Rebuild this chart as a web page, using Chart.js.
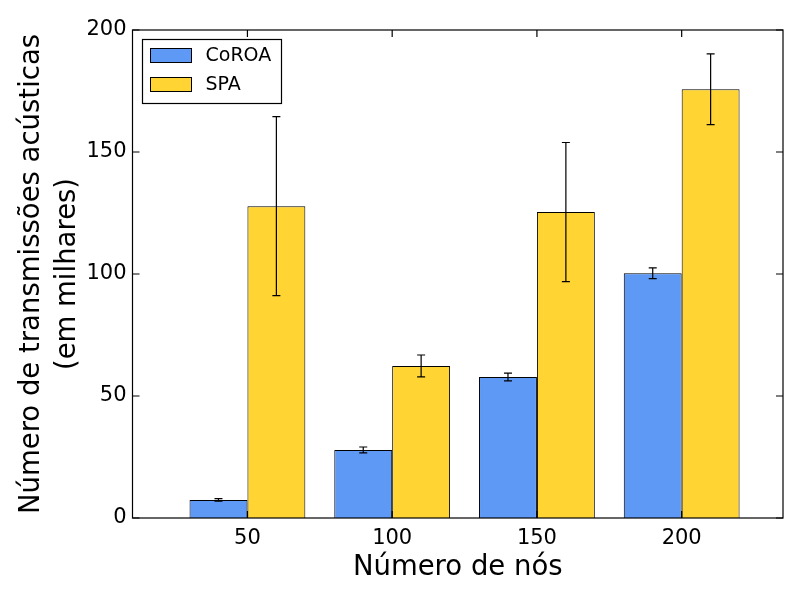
<!DOCTYPE html>
<html lang="pt">

<head>
    <meta charset="UTF-8">
    <title>Número de transmissões acústicas</title>
    <script src="https://cdn.jsdelivr.net/npm/chart.js"></script>
    <style>
        body {
            margin: 0;
            background-color: #ffffff;
        }

        #wrap {
            width: 800px;
            height: 600px;
        }
    </style>
</head>

<body>
    <div id="wrap">
        <canvas id="barChart" width="800" height="600"></canvas>
    </div>

    <script>
        // data (values in thousands)
        const nodes = [50, 100, 150, 200];
        const coroaValues = [7.4, 27.9, 57.8, 100.3];
        const coroaErrors = [0.5, 1.2, 1.6, 2.2];
        const spaValues = [127.8, 62.3, 125.4, 175.7];
        const spaErrors = [36.7, 4.5, 28.5, 14.5];
        const yTicks = [0, 50, 100, 150, 200];

        const FONT = "'DejaVu Sans', sans-serif";

        // error bars drawn from the bar elements and the y scale
        const errorBars = {
            id: 'errorBars',
            afterDatasetsDraw(chart) {
                const ctx = chart.ctx;
                const y = chart.scales.y;
                ctx.save();
                ctx.strokeStyle = '#000';
                ctx.lineWidth = 1.2;
                chart.data.datasets.forEach((ds, i) => {
                    const meta = chart.getDatasetMeta(i);
                    meta.data.forEach((bar, j) => {
                        const v = ds.data[j].y;
                        const e = ds.errors[j];
                        const top = y.getPixelForValue(v + e);
                        const bot = y.getPixelForValue(v - e);
                        ctx.beginPath();
                        ctx.moveTo(bar.x, top);
                        ctx.lineTo(bar.x, bot);
                        ctx.moveTo(bar.x - 4, top);
                        ctx.lineTo(bar.x + 4, top);
                        ctx.moveTo(bar.x - 4, bot);
                        ctx.lineTo(bar.x + 4, bot);
                        ctx.stroke();
                    });
                });
                ctx.restore();
            }
        };

        // box around the plot with inward ticks on all four sides, plus legend
        const frameAndLegend = {
            id: 'frameAndLegend',
            afterDraw(chart) {
                const ctx = chart.ctx;
                const a = chart.chartArea;
                const tl = 7;
                ctx.save();
                ctx.strokeStyle = '#000';
                ctx.lineWidth = 1.2;
                ctx.strokeRect(a.left, a.top, a.right - a.left, a.bottom - a.top);

                ctx.beginPath();
                chart.scales.y.ticks.forEach(t => {
                    const py = chart.scales.y.getPixelForValue(t.value);
                    ctx.moveTo(a.left, py);
                    ctx.lineTo(a.left + tl, py);
                    ctx.moveTo(a.right, py);
                    ctx.lineTo(a.right - tl, py);
                });
                chart.scales.x.ticks.forEach(t => {
                    const px = chart.scales.x.getPixelForValue(t.value);
                    ctx.moveTo(px, a.bottom);
                    ctx.lineTo(px, a.bottom - tl);
                    ctx.moveTo(px, a.top);
                    ctx.lineTo(px, a.top + tl);
                });
                ctx.stroke();

                // legend
                const lx = a.left + 10, ly = a.top + 9.5;
                ctx.fillStyle = '#fff';
                ctx.fillRect(lx, ly, 139, 64);
                ctx.strokeRect(lx, ly, 139, 64);
                ctx.font = '19px ' + FONT;
                ctx.textBaseline = 'middle';
                chart.data.datasets.forEach((ds, i) => {
                    const cy = ly + 16 + i * 29;
                    ctx.fillStyle = ds.backgroundColor;
                    ctx.fillRect(lx + 8, cy - 7, 41, 14);
                    ctx.lineWidth = 1;
                    ctx.strokeRect(lx + 8, cy - 7, 41, 14);
                    ctx.fillStyle = '#000';
                    ctx.fillText(ds.label, lx + 63, cy + 1);
                });
                ctx.restore();
            }
        };

        const ctx = document.getElementById('barChart').getContext('2d');
        const chart = new Chart(ctx, {
            type: 'bar',
            data: {
                datasets: [{
                    label: 'CoROA',
                    data: nodes.map((n, i) => ({ x: n, y: coroaValues[i] })),
                    errors: coroaErrors,
                    backgroundColor: '#5e99f5',
                    borderColor: '#000',
                    borderWidth: 1
                },
                {
                    label: 'SPA',
                    data: nodes.map((n, i) => ({ x: n, y: spaValues[i] })),
                    errors: spaErrors,
                    backgroundColor: '#ffd433',
                    borderColor: '#000',
                    borderWidth: 1
                }]
            },
            options: {
                responsive: false,
                animation: false,
                categoryPercentage: 0.8,
                barPercentage: 1.0,
                layout: {
                    padding: { left: 0, top: 30, right: 17, bottom: 0 }
                },
                plugins: {
                    legend: { display: false },
                    tooltip: { enabled: false }
                },
                scales: {
                    x: {
                        type: 'linear',
                        offset: false,
                        min: 10.3,
                        max: 235,
                        afterBuildTicks: scale => {
                            scale.ticks = nodes.map(v => ({ value: v }));
                        },
                        afterFit: scale => { scale.height = 82; },
                        grid: { display: false, drawTicks: false },
                        border: { display: false },
                        ticks: {
                            padding: 8,
                            color: '#000',
                            font: { family: FONT, size: 21 }
                        },
                        title: {
                            display: true,
                            text: 'Número de nós',
                            color: '#000',
                            padding: { top: 2, bottom: 16 },
                            font: { family: FONT, size: 27.5 }
                        }
                    },
                    y: {
                        min: 0,
                        max: 200,
                        afterBuildTicks: scale => {
                            scale.ticks = yTicks.map(v => ({ value: v }));
                        },
                        afterFit: scale => { scale.width = 132.5; },
                        grid: { display: false, drawTicks: false },
                        border: { display: false },
                        ticks: {
                            padding: 6,
                            color: '#000',
                            font: { family: FONT, size: 21 }
                        },
                        title: {
                            display: true,
                            text: ['Número de transmissões acústicas', '(em milhares)'],
                            color: '#000',
                            padding: { top: 14, bottom: 0 },
                            font: { family: FONT, size: 27.5, lineHeight: 1.3 }
                        }
                    }
                }
            },
            plugins: [errorBars, frameAndLegend]
        });
    </script>
</body>

</html>
